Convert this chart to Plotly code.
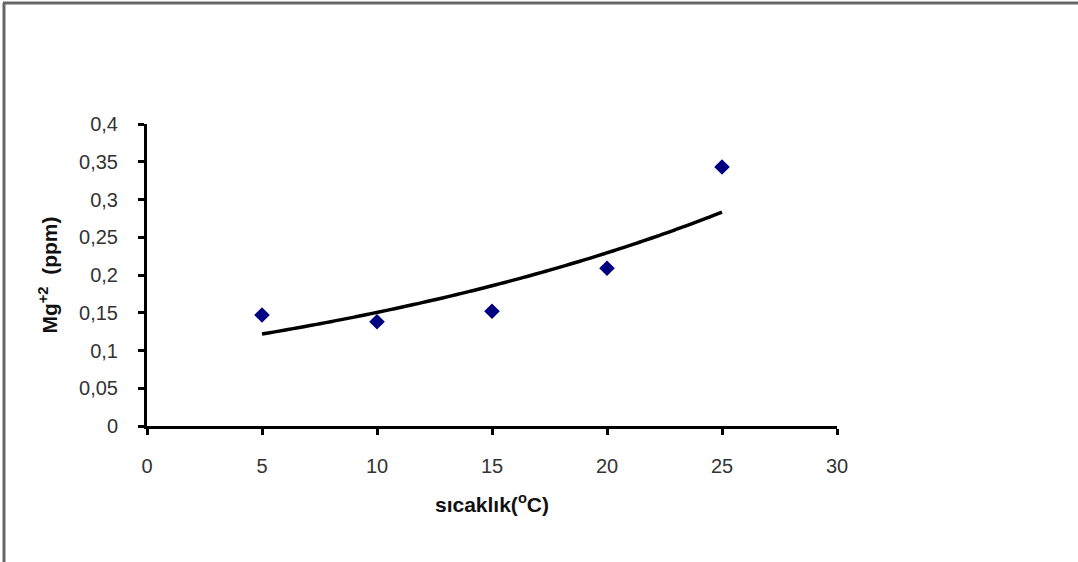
import numpy as np
import plotly.graph_objects as go

# data
temperature = [5, 10, 15, 20, 25]
mg_ppm = [0.147, 0.138, 0.152, 0.209, 0.343]
x_ticks = [0, 5, 10, 15, 20, 25, 30]
x_tick_labels = ["0", "5", "10", "15", "20", "25", "30"]
y_ticks = [0, 0.05, 0.1, 0.15, 0.2, 0.25, 0.3, 0.35, 0.4]
y_tick_labels = ["0", "0,05", "0,1", "0,15", "0,2", "0,25", "0,3", "0,35", "0,4"]

# exponential trendline (least squares on log y), as in a spreadsheet trendline
b, a = np.polyfit(temperature, np.log(mg_ppm), 1)
xt = np.linspace(min(temperature), max(temperature), 60)
yt = np.exp(a + b * xt)

W, H = 1078, 562
L, R, T, B = 147, 241, 124, 136
pw, ph = W - L - R, H - T - B

fig = go.Figure()
fig.add_trace(go.Scatter(x=xt, y=yt, mode="lines",
                         line=dict(color="black", width=3.5, shape="spline"),
                         hoverinfo="skip"))
fig.add_trace(go.Scatter(x=temperature, y=mg_ppm, mode="markers",
                         marker=dict(symbol="diamond", size=12, color="#000080",
                                     line=dict(width=0))))

font = "Liberation Sans, Arial, sans-serif"
fig.update_layout(
    width=W, height=H,
    margin=dict(l=L, r=R, t=T, b=B),
    paper_bgcolor="white", plot_bgcolor="white",
    showlegend=False,
    font=dict(family=font, color="#222"),
    xaxis=dict(range=[0, 30], tickvals=x_ticks, ticktext=x_tick_labels,
               showgrid=False, zeroline=False, showline=True, linecolor="black",
               linewidth=3, ticks="outside", ticklen=6, tickwidth=3, tickcolor="black",
               ticklabelstandoff=14,
               tickfont=dict(size=20, color="#333"),
               title=dict(text="<b>sıcaklık(<sup>o</sup>C)</b>", font=dict(size=21, color="#111"),
                          standoff=22)),
    yaxis=dict(range=[0, 0.4], tickvals=y_ticks, ticktext=y_tick_labels,
               showgrid=False, zeroline=False, showline=True, linecolor="black",
               linewidth=3, ticks="outside", ticklen=6, tickwidth=3, tickcolor="black",
               ticklabelstandoff=16,
               tickfont=dict(size=20, color="#333"),
               title=dict(text="<b>Mg<sup>+2</sup>&nbsp;&nbsp;(ppm)</b>",
                          font=dict(size=21, color="#111"), standoff=16)),
)

# outer frame: top and left border lines of the chart area
def px_to_paper_x(px):
    return (px - L) / pw

def px_to_paper_y(py):
    return (H - B - py) / ph

fig.add_shape(type="line", xref="paper", yref="paper",
              x0=px_to_paper_x(3), x1=px_to_paper_x(W), y0=px_to_paper_y(3), y1=px_to_paper_y(3),
              line=dict(color="#666", width=3))
fig.add_shape(type="line", xref="paper", yref="paper",
              x0=px_to_paper_x(4), x1=px_to_paper_x(4), y0=px_to_paper_y(3), y1=px_to_paper_y(H),
              line=dict(color="#666", width=3))

fig.write_html("out.html", config={"displayModeBar": False},
               post_script="document.body.style.margin='0';document.body.style.overflow='hidden';")
